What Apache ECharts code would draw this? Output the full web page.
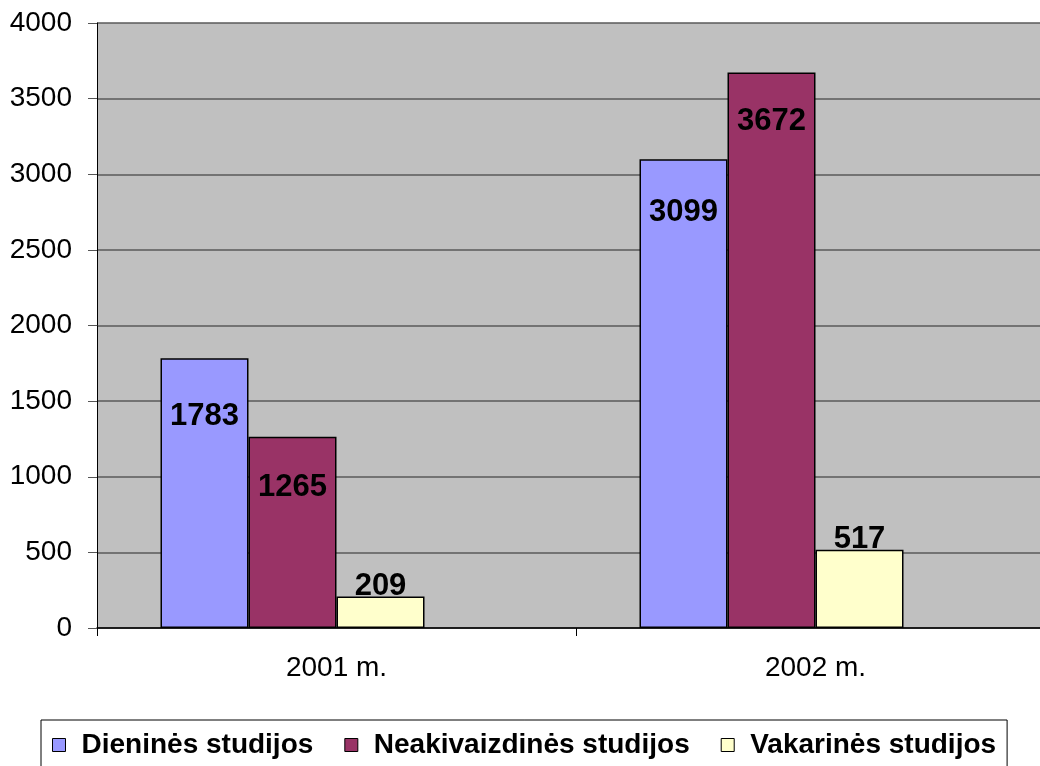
<!DOCTYPE html>
<html>
<head>
<meta charset="utf-8">
<script src="https://cdn.jsdelivr.net/npm/echarts@6/dist/echarts.min.js"></script>
<style>
  html, body { margin: 0; padding: 0; background: #fff; }
  #main { width: 1040px; height: 766px; }
</style>
</head>
<body>
<div id="main"></div>
<script>
var years = ['2001 m.', '2002 m.'];
var names = ['Dieninės studijos', 'Neakivaizdinės studijos', 'Vakarinės studijos'];
var dieninės = [1783, 3099];
var neakivaizdinės = [1265, 3672];
var vakarinės = [209, 517];

var colors = ['#9999FF', '#993366', '#FFFFCC'];
// label centre relative to bar top, px (labels were hand-placed in the original)
var labelShift = [[58, 53], [51, 49], [-10, -10]];

var font = '"Liberation Sans", Arial, sans-serif';

function makeSeries(idx, values) {
    return {
        name: names[idx],
        type: 'bar',
        barWidth: 88,
        barGap: '0%',
        itemStyle: {
            color: colors[idx],
            borderColor: '#000',
            borderWidth: 1.5
        },
        label: {
            show: true,
            position: 'top',
            distance: 0,
            verticalAlign: 'middle',
            fontFamily: font,
            fontWeight: 'bold',
            fontSize: 31,
            color: '#000'
        },
        data: values.map(function (v, i) {
            return { value: v, label: { offset: [0, labelShift[idx][i]] } };
        })
    };
}

var option = {
    backgroundColor: '#fff',
    animation: false,
    grid: {
        left: 97,
        top: 23,
        width: 958,   // plot runs past the right edge of the picture
        bottom: 138,
        containLabel: false,
        outerBoundsMode: 'none',
        show: true,
        backgroundColor: '#C0C0C0',
        borderWidth: 0
    },
    legend: {
        data: names,
        left: 41,
        top: 720,
        padding: [11, 11, 11, 11],
        borderColor: '#000',
        borderWidth: 1,
        itemWidth: 13,
        itemHeight: 13,
        itemGap: 31,
        icon: 'rect',
        itemStyle: { borderColor: '#000', borderWidth: 1 },
        textStyle: {
            fontFamily: font,
            fontWeight: 'bold',
            fontSize: 28,
            color: '#000',
            padding: [0, 0, 0, 11]
        }
    },
    xAxis: {
        type: 'category',
        data: years,
        axisLine: { lineStyle: { color: '#000', width: 1.5 } },
        axisTick: { show: true, length: 8, lineStyle: { color: '#000' } },
        axisLabel: {
            margin: 26,
            fontFamily: font,
            fontSize: 28,
            color: '#000'
        }
    },
    yAxis: {
        type: 'value',
        min: 0,
        max: 4000,
        interval: 500,
        axisLine: { show: true, lineStyle: { color: '#000', width: 1 } },
        axisTick: { show: true, length: 9, lineStyle: { color: '#555' } },
        axisLabel: {
            margin: 25,
            fontFamily: font,
            fontSize: 28,
            color: '#000',
            formatter: function (v) { return String(v); }
        },
        splitLine: { lineStyle: { color: '#5a5a5a', width: 1.5 } }
    },
    series: [
        makeSeries(0, dieninės),
        makeSeries(1, neakivaizdinės),
        makeSeries(2, vakarinės),
        // empty fourth slot: the original reserves room for it, shifting the groups left
        { name: 'tuščia', type: 'bar', barWidth: 88, barGap: '0%', data: ['-', '-'] }
    ]
};

var myChart = echarts.init(document.getElementById('main'));
myChart.setOption(option);
</script>
</body>
</html>
